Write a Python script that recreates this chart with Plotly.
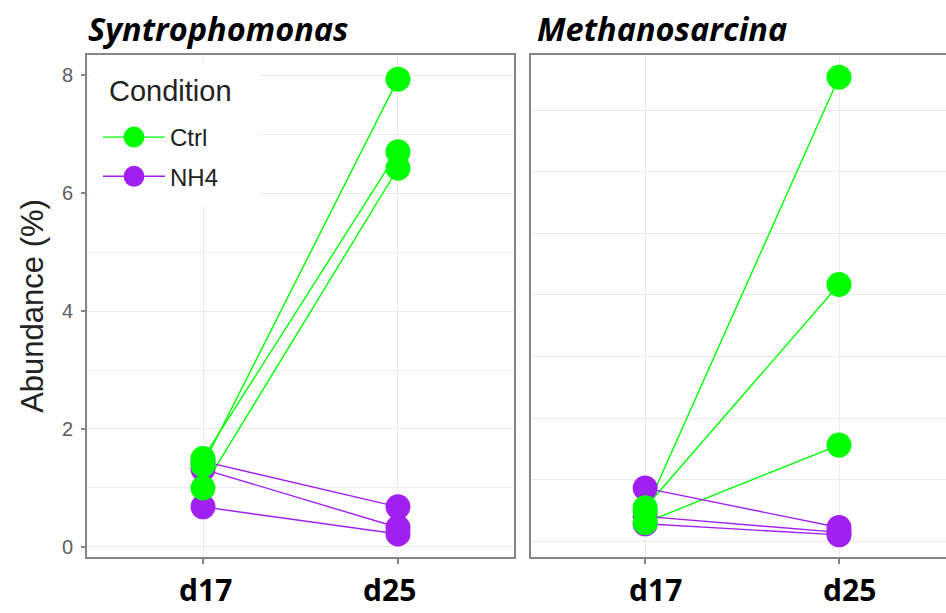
import plotly.graph_objects as go

# Sampling days and conditions
days = ["d17", "d25"]
conditions = ["Ctrl", "NH4"]
panel_titles = ["Syntrophomonas", "Methanosarcina"]
legend_title = "Condition"
colors = {"Ctrl": "#00ff00", "NH4": "#a020f0"}

# Relative abundance (%) per replicate, paired d17 -> d25
synt_ctrl_d17 = [1.39, 1.50, 1.00]
synt_ctrl_d25 = [7.93, 6.70, 6.42]
synt_nh4_d17 = [1.45, 1.32, 0.68]
synt_nh4_d25 = [0.68, 0.33, 0.22]

meth_ctrl_d17 = [0.24, 0.27, 0.15]
meth_ctrl_d25 = [3.77, 2.085, 0.78]
meth_nh4_d17 = [0.43, 0.20, 0.14]
meth_nh4_d25 = [0.11, 0.07, 0.05]

panels = [
    {"Ctrl": (synt_ctrl_d17, synt_ctrl_d25), "NH4": (synt_nh4_d17, synt_nh4_d25)},
    {"Ctrl": (meth_ctrl_d17, meth_ctrl_d25), "NH4": (meth_nh4_d17, meth_nh4_d25)},
]

W, H = 946, 613


def px_x(p):
    return p / W


def px_y(p):
    return 1 - p / H


fig = go.Figure()

for i, panel in enumerate(panels):
    xa = "x" if i == 0 else "x2"
    ya = "y" if i == 0 else "y2"
    # connecting segments first so the points sit on top
    for cond in conditions:
        d17, d25 = panel[cond]
        xs, ys = [], []
        for a, b in zip(d17, d25):
            xs += [days[0], days[1], None]
            ys += [a, b, None]
        fig.add_trace(go.Scatter(
            x=xs, y=ys, mode="lines", xaxis=xa, yaxis=ya,
            line=dict(color=colors[cond], width=1.4),
            showlegend=False, hoverinfo="skip",
        ))
    for rank, cond in ((2, "NH4"), (1, "Ctrl")):
        d17, d25 = panel[cond]
        xs, ys = [], []
        for a, b in zip(d17, d25):
            xs += [days[0], None, days[1], None]
            ys += [a, None, b, None]
        fig.add_trace(go.Scatter(
            x=xs, y=ys, mode="lines+markers", xaxis=xa, yaxis=ya,
            name=cond, legendgroup=cond, legendrank=rank,
            showlegend=(i == 0), connectgaps=False,
            line=dict(color=colors[cond], width=1.4),
            marker=dict(color=colors[cond], size=20,
                        line=dict(width=5, color=colors[cond])),
        ))

border = "#858585"
grid = "#ebebeb"
tick_font = dict(family="Liberation Sans, Arial, sans-serif", size=20, color="#5e5e5e")

common_x = dict(
    type="category", categoryorder="array", categoryarray=days,
    showgrid=True, gridcolor=grid, gridwidth=1.2,
    ticks="outside", ticklen=5, tickcolor=border, tickwidth=1.5,
    showticklabels=False, showline=True, linecolor=border, linewidth=2,
    mirror=True, zeroline=False, fixedrange=True,
)

fig.update_layout(
    width=W, height=H,
    margin=dict(l=0, r=0, t=0, b=0),
    paper_bgcolor="white", plot_bgcolor="white",
    xaxis=dict(common_x, domain=[px_x(87), px_x(514)], range=[-0.595, 1.595]),
    xaxis2=dict(common_x, domain=[px_x(531), 1.0], range=[-0.589, 1.552], anchor="y2"),
    yaxis=dict(
        domain=[px_y(557), px_y(55)], range=[-0.17, 8.34],
        tickmode="array", tickvals=[0, 2, 4, 6, 8], ticktext=["0", "2", "4", "6", "8"],
        showgrid=True, gridcolor=grid, gridwidth=1.2,
        minor=dict(dtick=1, showgrid=True, gridcolor="#f0f0f0", gridwidth=1),
        ticks="outside", ticklen=4, tickcolor=border, tickwidth=1.5,
        tickfont=tick_font, ticklabelstandoff=4,
        showline=True, linecolor=border, linewidth=2, mirror=True, zeroline=False,
        title=dict(text="Abundance (%)", standoff=9,
                   font=dict(family="Liberation Sans, Arial, sans-serif", size=31, color="#222222")),
    ),
    yaxis2=dict(
        domain=[px_y(557), px_y(55)], range=[-0.130, 3.951], anchor="x2",
        dtick=0.5, tick0=0, showgrid=True, gridcolor=grid, gridwidth=1.2,
        showticklabels=False, ticks="",
        showline=True, linecolor=border, linewidth=2, mirror=False, zeroline=False,
    ),
    legend=dict(
        x=px_x(98), y=px_y(115), xanchor="left", yanchor="top",
        bgcolor="rgba(0,0,0,0)", borderwidth=0,
        font=dict(family="Liberation Sans, Arial, sans-serif", size=24, color="#222222"),
        tracegroupgap=5, itemwidth=62,
    ),
    showlegend=True,
    # white key box behind the legend, hiding the grid there
    shapes=[dict(type="rect", xref="paper", yref="paper", layer="above",
                 x0=px_x(89), x1=px_x(260), y0=px_y(205), y1=px_y(62),
                 fillcolor="white", line=dict(width=0))],
)

title_font = dict(family="Open Sans, sans-serif", size=32.5, color="black", weight="bold", style="italic")
annotations = [
    dict(text=panel_titles[0], x=px_x(86), y=px_y(29), xref="paper", yref="paper",
         xanchor="left", yanchor="middle", showarrow=False, font=title_font),
    dict(text=panel_titles[1], x=px_x(535), y=px_y(29), xref="paper", yref="paper",
         xanchor="left", yanchor="middle", showarrow=False, font=title_font),
    dict(text=legend_title, x=px_x(107), y=px_y(91), xref="paper", yref="paper",
         xanchor="left", yanchor="middle", showarrow=False,
         font=dict(family="Liberation Sans, Arial, sans-serif", size=29, color="#222222")),
]

# bold day labels under each panel
label_font = dict(family="Open Sans, sans-serif", size=30, color="black", weight="bold")
shifts = [(2, -8), (10, 10)]
for i, xr in enumerate(["x", "x2"]):
    for d, s in zip(days, shifts[i]):
        annotations.append(dict(
            text=d, x=d, xref=xr, y=0, yref="paper",
            xanchor="center", yanchor="bottom", xshift=s, yshift=1,
            showarrow=False, font=label_font,
        ))

fig.update_layout(annotations=annotations)

fig.write_html("out.html")
